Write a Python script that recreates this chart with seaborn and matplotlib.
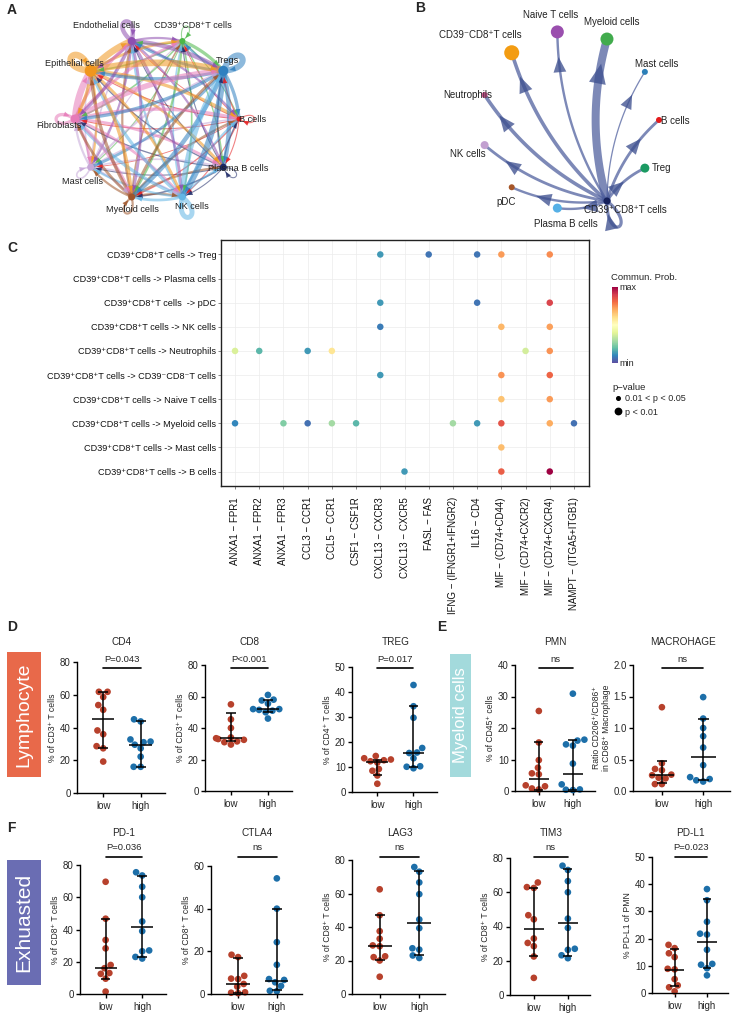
import numpy as np
import pandas as pd
import matplotlib
matplotlib.use("Agg")
import matplotlib.pyplot as plt
import seaborn as sns
from matplotlib.lines import Line2D
from matplotlib.patches import Polygon, Rectangle
import matplotlib.transforms as mtransforms
from matplotlib.cm import ScalarMappable
from matplotlib.colors import Normalize
from matplotlib.ticker import FormatStrFormatter

# ===================== DATA =====================
# --- Panel A: circle network (all cell types) ---
A_CELLS = ["B cells", "Tregs", "CD39⁺CD8⁺T cells", "Endothelial cells", "Epithelial cells",
           "Fibroblasts", "Mast cells", "Myeloid cells", "NK cells", "Plasma B cells"]
A_COLORS = ["#e41a1c", "#2f80c0", "#4cb748", "#8e4fb0", "#f0961e",
            "#e67ab8", "#c6a7d8", "#a0562b", "#62b5e5", "#1c2866"]
A_NODE_SIZE = [5, 10, 6, 8, 12, 9, 7, 7, 7, 7]
A_WEIGHT = [
    [1.0, 1.2, 0.8, 0.8, 1.0, 1.0, 0.8, 1.2, 1.0, 1.0],
    [3.0, 5.5, 2.0, 2.5, 3.0, 3.0, 2.5, 4.0, 5.5, 4.0],
    [1.0, 3.0, 1.0, 1.5, 1.5, 1.5, 1.0, 2.0, 1.5, 1.2],
    [2.0, 4.0, 2.0, 4.0, 2.5, 3.0, 2.0, 2.5, 2.5, 2.0],
    [3.0, 6.0, 2.5, 6.0, 6.0, 3.0, 2.0, 3.0, 2.5, 2.5],
    [3.0, 5.0, 2.5, 3.0, 6.0, 3.0, 2.5, 3.0, 2.5, 2.5],
    [1.5, 2.0, 1.0, 1.5, 1.5, 2.0, 1.5, 2.0, 1.5, 1.5],
    [2.0, 2.5, 1.5, 2.0, 3.0, 2.5, 2.0, 2.0, 2.0, 2.0],
    [2.0, 5.0, 1.5, 2.0, 3.0, 3.0, 2.0, 2.5, 4.5, 2.0],
    [1.2, 1.5, 1.0, 1.0, 1.2, 1.2, 1.0, 1.5, 1.0, 1.0],
]

# --- Panel B: outgoing signals from CD39+CD8+ T cells ---
B_CELLS = ["B cells", "Mast cells", "Myeloid cells", "Naive T cells", "CD39⁻CD8⁺T cells",
           "Neutrophils", "NK cells", "pDC", "Plasma B cells", "CD39⁺CD8⁺T cells", "Treg"]
B_COLORS = ["#e41a1c", "#2c7fb8", "#41ab4d", "#9a4fae", "#f39c12",
            "#e05a9c", "#c2a0d0", "#a65628", "#56b0e6", "#15205a", "#1b9a62"]
B_NODE_SIZE = [6, 6, 13, 13, 15, 6, 8, 6, 9, 7, 9]
B_WEIGHT = [0.35, 0.15, 1.0, 0.3, 0.45, 0.45, 0.35, 0.3, 0.3, 0.4, 0.35]
B_SOURCE = "CD39⁺CD8⁺T cells"

# --- Panel C: bubble plot ---
C_TARGETS = ["CD39⁺CD8⁺T cells -> Treg", "CD39⁺CD8⁺T cells -> Plasma cells",
             "CD39⁺CD8⁺T cells  -> pDC", "CD39⁺CD8⁺T cells -> NK cells",
             "CD39⁺CD8⁺T cells -> Neutrophils", "CD39⁺CD8⁺T cells -> CD39⁻CD8⁻T cells",
             "CD39⁺CD8⁺T cells -> Naive T cells", "CD39⁺CD8⁺T cells -> Myeloid cells",
             "CD39⁺CD8⁺T cells -> Mast cells", "CD39⁺CD8⁺T cells -> B cells"]
C_PAIRS = ["ANXA1 − FPR1", "ANXA1 − FPR2", "ANXA1 − FPR3", "CCL3 − CCR1", "CCL5 − CCR1",
           "CSF1 − CSF1R", "CXCL13 − CXCR3", "CXCL13 − CXCR5", "FASL − FAS",
           "IFNG − (IFNGR1+IFNGR2)", "IL16 − CD4", "MIF − (CD74+CD44)", "MIF − (CD74+CXCR2)",
           "MIF − (CD74+CXCR4)", "NAMPT − (ITGA5+ITGB1)"]
C_DOT_TARGET = [0, 0, 0, 0, 0,
                2, 2, 2,
                3, 3, 3,
                4, 4, 4, 4, 4, 4,
                5, 5, 5,
                6, 6,
                7, 7, 7, 7, 7, 7, 7, 7, 7, 7,
                8,
                9, 9, 9]
C_DOT_PAIR = [6, 8, 10, 11, 13,
              6, 10, 13,
              6, 11, 13,
              0, 1, 3, 4, 12, 13,
              6, 11, 13,
              11, 13,
              0, 2, 3, 4, 5, 9, 10, 11, 13, 14,
              11,
              7, 11, 13]
C_DOT_PROB = [0.13, 0.07, 0.07, 0.73, 0.75,
              0.13, 0.07, 0.88,
              0.08, 0.68, 0.72,
              0.38, 0.18, 0.13, 0.58, 0.37, 0.74,
              0.13, 0.74, 0.82,
              0.66, 0.73,
              0.10, 0.24, 0.06, 0.29, 0.18, 0.29, 0.13, 0.85, 0.70, 0.06,
              0.67,
              0.13, 0.83, 1.00]
C_DOT_PVAL = ["p < 0.01"] * len(C_DOT_PROB)

# --- Panels D-F: flow cytometry scatter (low vs high) ---
GROUPS = ["low", "high"]
CD4_LOW = [61.8, 61.8, 58.6, 53.7, 50.8, 38.2, 35.9, 28.6, 27.3, 19.2]
CD4_HIGH = [45.0, 43.7, 32.7, 31.4, 31.0, 29.5, 27.3, 22.2, 16.0, 16.0]
CD4_SUMMARY = [(45.3, 27.5, 61.8), (29.4, 16.0, 43.7)]
CD8_LOW = [55.0, 45.5, 40.0, 34.0, 33.5, 33.0, 32.5, 31.5, 31.0, 29.5]
CD8_HIGH = [61.0, 58.0, 57.5, 55.5, 52.0, 52.0, 51.5, 51.0, 50.0, 46.0]
CD8_SUMMARY = [(33.5, 31.5, 49.4), (52.0, 50.0, 57.8)]
TREG_LOW = [14.4, 13.5, 13.0, 12.7, 12.3, 11.8, 9.2, 8.5, 6.6, 3.3]
TREG_HIGH = [42.8, 34.3, 29.7, 17.6, 15.8, 15.6, 13.5, 10.3, 10.1, 9.5]
TREG_SUMMARY = [(12.1, 6.9, 13.0), (15.7, 10.2, 34.3)]
PMN_LOW = [25.4, 15.4, 9.8, 7.4, 5.6, 5.3, 1.8, 1.5, 0.8, 0.5]
PMN_HIGH = [30.9, 16.3, 16.0, 14.8, 14.4, 8.7, 2.1, 0.5, 0.4, 0.3]
PMN_SUMMARY = [(3.7, 0.3, 15.4), (5.3, 0.4, 16.2)]
MAC_LOW = [1.33, 0.44, 0.35, 0.33, 0.26, 0.25, 0.21, 0.20, 0.11, 0.11]
MAC_HIGH = [1.49, 1.15, 1.00, 0.87, 0.69, 0.41, 0.22, 0.19, 0.17, 0.15]
MAC_SUMMARY = [(0.25, 0.12, 0.47), (0.535, 0.17, 1.15)]
PD1_LOW = [69.6, 46.7, 33.5, 28.3, 18.0, 16.0, 13.0, 12.5, 9.5, 1.5]
PD1_HIGH = [75.5, 73.5, 66.5, 60.0, 45.0, 39.0, 27.0, 26.5, 23.0, 22.0]
PD1_SUMMARY = [(15.9, 9.3, 46.7), (41.7, 23.0, 73.0)]
CTLA4_LOW = [18.4, 17.3, 8.5, 7.2, 7.0, 4.7, 3.5, 0.8, 0.6, 0.4]
CTLA4_HIGH = [54.2, 40.0, 24.3, 13.7, 7.0, 6.6, 5.5, 3.8, 1.5, 1.3]
CTLA4_SUMMARY = [(4.7, 0.3, 17.1), (6.1, 1.9, 40.0)]
LAG3_LOW = [62.5, 47.0, 37.5, 33.0, 29.0, 28.5, 22.5, 22.0, 20.0, 10.3]
LAG3_HIGH = [75.8, 73.0, 66.6, 59.6, 44.5, 39.3, 27.3, 26.5, 23.0, 21.5]
LAG3_SUMMARY = [(28.5, 20.1, 47.0), (42.2, 23.4, 73.2)]
TIM3_LOW = [65.7, 63.0, 62.5, 46.6, 44.2, 33.0, 30.4, 28.5, 22.5, 10.0]
TIM3_HIGH = [75.5, 73.0, 66.5, 60.0, 44.6, 39.2, 27.0, 26.4, 23.2, 21.5]
TIM3_SUMMARY = [(38.8, 22.6, 62.6), (42.1, 23.0, 73.3)]
PDL1_LOW = [17.7, 16.5, 14.6, 13.2, 8.9, 8.7, 5.1, 2.8, 2.1, 0.6]
PDL1_HIGH = [38.2, 34.1, 26.2, 21.8, 21.5, 15.9, 10.7, 10.4, 9.1, 6.5]
PDL1_SUMMARY = [(8.5, 2.4, 16.1), (18.7, 9.1, 34.4)]

# ===================== STYLE / LAYOUT =====================
sns.set_theme(style="ticks")
plt.rcParams['font.family'] = ['Liberation Sans', 'DejaVu Sans']
plt.rcParams['font.size'] = 6

W, H = 736, 1015
fig = plt.figure(figsize=(W / 100, H / 100), dpi=100)
PX = 0.72  # points per pixel


def px_axes(x0, y0, x1, y1):
    return fig.add_axes([x0 / W, 1 - y1 / H, (x1 - x0) / W, (y1 - y0) / H])


def qbez(p0, p1, rad, n=80):
    d = p1 - p0
    c = (p0 + p1) / 2 + rad * np.array([d[1], -d[0]])
    t = np.linspace(0, 1, n)[:, None]
    return (1 - t) ** 2 * p0 + 2 * (1 - t) * t * c + t ** 2 * p1


def cubic_loop(p, theta, L, spread, n=80):
    u1 = np.array([np.cos(theta + spread), -np.sin(theta + spread)])
    u2 = np.array([np.cos(theta - spread), -np.sin(theta - spread)])
    c1, c2 = p + L * u1, p + L * u2
    t = np.linspace(0, 1, n)[:, None]
    return (1 - t) ** 3 * p + 3 * (1 - t) ** 2 * t * c1 + 3 * (1 - t) * t ** 2 * c2 + t ** 3 * p


def head(ax, curve, gap, length, width, color, alpha, z):
    end = curve[-1]
    dist = np.hypot(*(curve - end).T)
    idx = np.where(dist >= gap)[0]
    k = idx[-1] if len(idx) else len(curve) - 2
    k = max(k, 1)
    tip = curve[k]
    tan = curve[k] - curve[k - 1]
    tan = tan / np.hypot(*tan)
    base = tip - tan * length
    nrm = np.array([-tan[1], tan[0]])
    ax.add_patch(Polygon([tip, base + nrm * width / 2, base - nrm * width / 2], closed=True,
                         facecolor=color, edgecolor='none', alpha=alpha, zorder=z))


# ---------------- Panel A ----------------
A_LABEL_OFF = [(14, 0), (4, -10), (11, -16), (-25, -16), (-16, -7), (-16, 7),
               (-8, 14), (1, 13), (10, 10), (15, 1)]
axA = px_axes(15, 0, 295, 240)
axA.set_xlim(15, 295)
axA.set_ylim(240, 0)
axA.axis('off')
nA = len(A_CELLS)
angA = np.deg2rad(np.arange(nA) * 360 / nA)
posA = np.c_[157 + 82 * np.cos(angA), 119 - 82 * np.sin(angA)]
WA = np.array(A_WEIGHT)
for flat in np.argsort(WA, axis=None):
    i, j = divmod(int(flat), nA)
    w = WA[i, j]
    col = A_COLORS[i]
    if i == j:
        crv = cubic_loop(posA[i], angA[i], 22 + 2.5 * w, 0.55)
    else:
        crv = qbez(posA[i], posA[j], 0.12)
    axA.plot(crv[:, 0], crv[:, 1], color=col, lw=w * PX * 1.1, alpha=0.55,
             solid_capstyle='butt', zorder=2)
    head(axA, crv, A_NODE_SIZE[j] / 2 + 1, 6, 5, col, 0.85, 3)
axA.scatter(posA[:, 0], posA[:, 1], s=(np.array(A_NODE_SIZE) * PX) ** 2, c=A_COLORS,
            zorder=4, linewidths=0)
for k, (name, off) in enumerate(zip(A_CELLS, A_LABEL_OFF)):
    axA.text(posA[k, 0] + off[0], posA[k, 1] + off[1], name, fontsize=6.6,
             ha='center', va='center', color='#222222', zorder=5)

# ---------------- Panel B ----------------
B_LABEL_OFF = [(16, 1), (12, -8), (5, -17), (-7, -17), (-31, -18), (-17, 0),
               (-17, 9), (-6, 15), (9, 16), (18, 9), (17, 0)]
axB = px_axes(430, 0, 730, 240)
axB.set_xlim(430, 730)
axB.set_ylim(240, 0)
axB.axis('off')
nB = len(B_CELLS)
angB = np.deg2rad(np.arange(nB) * 360 / nB)
posB = np.c_[570 + 89 * np.cos(angB), 120 - 89 * np.sin(angB)]
s = B_CELLS.index(B_SOURCE)
for j, w in enumerate(B_WEIGHT):
    if j == s:
        crv = cubic_loop(posB[s], angB[s], 42, 0.45)
        gap = 13
    else:
        crv = qbez(posB[s], posB[j], 0.14)
        gap = 25
    axB.plot(crv[:, 0], crv[:, 1], color='#4b5c9c', lw=max(1.3, 8 * w) * PX, alpha=0.72,
             solid_capstyle='round', zorder=2)
    head(axB, crv, gap, 13 + 7 * w, 11 + 6 * w, '#3f5190', 0.78, 3)
axB.scatter(posB[:, 0], posB[:, 1], s=(np.array(B_NODE_SIZE) * PX) ** 2, c=B_COLORS,
            zorder=4, linewidths=0)
for k, (name, off) in enumerate(zip(B_CELLS, B_LABEL_OFF)):
    axB.text(posB[k, 0] + off[0], posB[k, 1] + off[1], name, fontsize=7,
             ha='center', va='center', color='#222222', zorder=5)

# ---------------- Panel C ----------------
axC = px_axes(220.5, 240, 588.5, 486)
dfC = pd.DataFrame({'x': C_DOT_PAIR, 'y': C_DOT_TARGET, 'prob': C_DOT_PROB, 'pval': C_DOT_PVAL})
sns.scatterplot(data=dfC, x='x', y='y', hue='prob', palette='Spectral_r', hue_norm=(0, 1),
                size='pval', sizes={'0.01 < p < 0.05': 8, 'p < 0.01': 22},
                legend=False, linewidth=0, ax=axC, zorder=3)
axC.set_xlim(-0.6, len(C_PAIRS) - 0.4)
axC.set_ylim(len(C_TARGETS) - 0.4, -0.6)
axC.set_xticks(range(len(C_PAIRS)))
axC.set_xticklabels(C_PAIRS, rotation=90, fontsize=7, color='#111111')
axC.set_yticks(range(len(C_TARGETS)))
axC.set_yticklabels(C_TARGETS, fontsize=6.6, color='#111111')
axC.set_xlabel('')
axC.set_ylabel('')
axC.grid(True, color='#ececec', lw=0.5)
axC.set_axisbelow(True)
for sp in axC.spines.values():
    sp.set_visible(True)
    sp.set_color('#222222')
    sp.set_linewidth(1.0)
axC.tick_params(length=2, width=0.5, color='#555555', pad=1)
axC.tick_params(axis='x', pad=6)

cax = px_axes(612, 287, 618, 363)
cb = fig.colorbar(ScalarMappable(norm=Normalize(0, 1), cmap='Spectral_r'), cax=cax)
cb.set_ticks([0, 1])
cb.set_ticklabels(['min', 'max'])
cb.ax.tick_params(length=0, labelsize=6.5, pad=1)
cb.outline.set_visible(False)
fig.text(611 / W, 1 - 278 / H, "Commun. Prob.", fontsize=6.8, va='center', ha='left')
fig.text(612 / W, 1 - 387 / H, "p−value", fontsize=6.8, va='center', ha='left')
handles = [Line2D([], [], ls='none', marker='o', ms=2.6, color='black'),
           Line2D([], [], ls='none', marker='o', ms=4.6, color='black')]
fig.legend(handles, ['0.01 < p < 0.05', 'p < 0.01'], loc='upper left',
           bbox_to_anchor=(614 / W, 1 - 394 / H), frameon=False, fontsize=6.5,
           handletextpad=0.4, labelspacing=0.5, borderpad=0, handlelength=0.8,
           borderaxespad=0)

# ---------------- Panels D-F ----------------
RED, BLUE = "#b7412c", "#1d6fa9"
PANELS = [
    dict(title="CD4", low=CD4_LOW, high=CD4_HIGH, summ=CD4_SUMMARY, ylabel="% of CD3⁺ T cells",
         ymax=80, step=20, ptxt="P=0.043", box=(77, 662, 165, 793), row=0),
    dict(title="CD8", low=CD8_LOW, high=CD8_HIGH, summ=CD8_SUMMARY, ylabel="% of CD3⁺ T cells",
         ymax=80, step=20, ptxt="P<0.001", box=(205, 665, 292, 791), row=0),
    dict(title="TREG", low=TREG_LOW, high=TREG_HIGH, summ=TREG_SUMMARY, ylabel="% of CD4⁺ T cells",
         ymax=50, step=10, ptxt="P=0.017", box=(352, 667, 437, 792), row=0),
    dict(title="PMN", low=PMN_LOW, high=PMN_HIGH, summ=PMN_SUMMARY, ylabel="% of CD45⁺ cells",
         ymax=40, step=10, ptxt="ns", box=(515, 665, 595, 791), row=0),
    dict(title="MACROHAGE", low=MAC_LOW, high=MAC_HIGH, summ=MAC_SUMMARY,
         ylabel="Ratio CD206⁺/CD86⁺\nin CD68⁺ Macrophage",
         ymax=2.0, step=0.5, ptxt="ns", box=(633, 665, 730, 791), row=0, fmt='%.1f'),
    dict(title="PD-1", low=PD1_LOW, high=PD1_HIGH, summ=PD1_SUMMARY, ylabel="% of CD8⁺ T cells",
         ymax=80, step=20, ptxt="P=0.036", box=(80, 865, 166, 994), row=1),
    dict(title="CTLA4", low=CTLA4_LOW, high=CTLA4_HIGH, summ=CTLA4_SUMMARY, ylabel="% of CD8⁺ T cells",
         ymax=60, step=20, ptxt="ns", box=(211, 866, 302, 994), row=1),
    dict(title="LAG3", low=LAG3_LOW, high=LAG3_HIGH, summ=LAG3_SUMMARY, ylabel="% of CD8⁺ T cells",
         ymax=80, step=20, ptxt="ns", box=(352, 860, 445, 994), row=1),
    dict(title="TIM3", low=TIM3_LOW, high=TIM3_HIGH, summ=TIM3_SUMMARY, ylabel="% of CD8⁺ T cells",
         ymax=80, step=20, ptxt="ns", box=(510, 858, 590, 995), row=1),
    dict(title="PD-L1", low=PDL1_LOW, high=PDL1_HIGH, summ=PDL1_SUMMARY, ylabel="% PD-L1 of PMN",
         ymax=50, step=10, ptxt="P=0.023", box=(652, 857, 728, 993), row=1),
]
ROW_Y = [(642, 659, 668), (833, 848, 857)]  # title, p-text, line (pixel y)

for spec in PANELS:
    x0, y0, x1, y1 = spec['box']
    ax = px_axes(x0, y0, x1, y1)
    df = pd.DataFrame({'group': ['low'] * len(spec['low']) + ['high'] * len(spec['high']),
                       'value': list(spec['low']) + list(spec['high'])})
    sns.swarmplot(data=df, x='group', y='value', hue='group', order=GROUPS, hue_order=GROUPS,
                  palette=[RED, BLUE], size=4.8, legend=False, ax=ax, zorder=2, linewidth=0)
    for c in ax.collections:
        c.set_clip_on(False)
    for gi, (med, lo, hi) in enumerate(spec['summ']):
        ax.vlines(gi, lo, hi, color='black', lw=1.1, zorder=5, clip_on=False)
        ax.hlines(med, gi - 0.3, gi + 0.3, color='black', lw=1.1, zorder=5, clip_on=False)
        ax.hlines([lo, hi], gi - 0.13, gi + 0.13, color='black', lw=1.1, zorder=5, clip_on=False)
    ax.set_xlim(-0.7, 1.65)
    ax.set_ylim(0, spec['ymax'])
    ax.set_yticks(np.arange(0, spec['ymax'] + 1e-9, spec['step']))
    ax.yaxis.set_major_formatter(FormatStrFormatter(spec.get('fmt', '%d')))
    ax.set_xlabel('')
    ax.set_ylabel(spec['ylabel'], fontsize=6.2, labelpad=2, linespacing=1.1)
    sns.despine(ax=ax)
    for sp in ['left', 'bottom']:
        ax.spines[sp].set_linewidth(1.0)
        ax.spines[sp].set_color('black')
    ax.tick_params(length=3, width=1.0, color='black', labelsize=7, pad=1.5)
    ax.tick_params(axis='x', pad=3)
    ax.set_facecolor('none')
    ty, py, ly = ROW_Y[spec['row']]
    tr = mtransforms.blended_transform_factory(ax.transData, fig.transFigure)
    ax.text(0.5, 1 - ty / H, spec['title'], transform=tr, ha='center', va='center', fontsize=7.2)
    ax.text(0.5, 1 - py / H, spec['ptxt'], transform=tr, ha='center', va='center', fontsize=6.8)
    ax.add_line(Line2D([0, 1], [1 - ly / H, 1 - ly / H], transform=tr, color='black', lw=1.2,
                       clip_on=False))


def side_box(x0, y0, x1, y1, color, text, fs):
    fig.add_artist(Rectangle((x0 / W, 1 - y1 / H), (x1 - x0) / W, (y1 - y0) / H,
                             transform=fig.transFigure, facecolor=color, edgecolor='none'))
    fig.text((x0 + x1) / 2 / W, 1 - (y0 + y1) / 2 / H, text, rotation=90, color='white',
             fontsize=fs, ha='center', va='center')


side_box(7, 652, 41, 777, "#e8694a", "Lymphocyte", 14)
side_box(450, 654, 471, 777, "#a3dadc", "Myeloid cells", 12)
side_box(7, 860, 41, 985, "#6a6db3", "Exhuasted", 15)

for lab, x, y in [("A", 7, 10), ("B", 415, 8), ("C", 7, 248), ("D", 7, 627), ("E", 437, 627), ("F", 7, 828)]:
    fig.text(x / W, 1 - y / H, lab, fontsize=10, fontweight='bold', ha='left', va='center')

fig.savefig("out.png", dpi=100)
